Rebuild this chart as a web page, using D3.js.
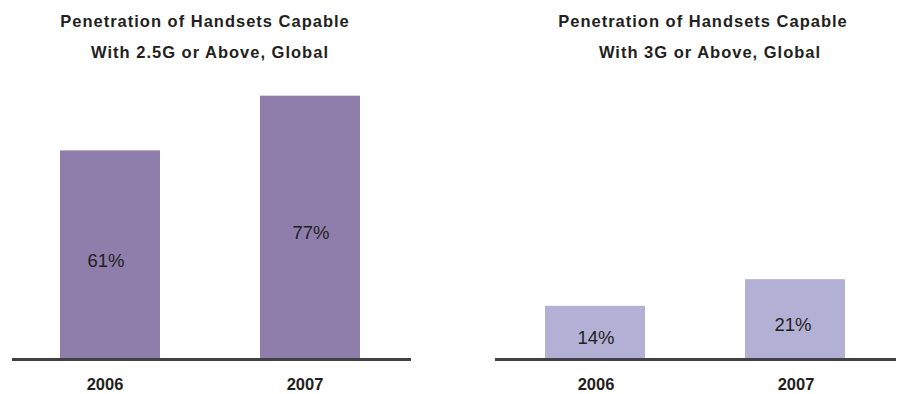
<!DOCTYPE html>
<html><head><meta charset="utf-8">
<script src="https://cdn.jsdelivr.net/npm/d3@7"></script>
<style>
html,body{margin:0;padding:0;background:#fff;}
svg text{font-family:"Liberation Sans",Arial,Helvetica,sans-serif;fill:#231f20;}
</style></head>
<body><svg id="c" width="898" height="394"></svg>
<script>
const years = ["2006", "2007"];
const values25G = [61, 77];
const values3G = [14, 21];
const titles25G = ["Penetration of Handsets Capable", "With 2.5G or Above, Global"];
const titles3G = ["Penetration of Handsets Capable", "With 3G or Above, Global"];

const svg = d3.select("#c");

function panel(opts) {
  const g = svg.append("g");
  const x = d3.scaleBand().domain(years).range([opts.x0, opts.x0 + 400]).paddingInner(0.5).paddingOuter(0.25);
  const y = d3.scaleLinear().domain([0, opts.max]).range([359, 17]);

  g.selectAll("rect").data(opts.values).join("rect")
    .attr("x", (d, i) => x(years[i]))
    .attr("width", x.bandwidth())
    .attr("y", d => y(d))
    .attr("height", d => y(0) - y(d))
    .attr("fill", opts.color);

  g.selectAll("text.val").data(opts.values).join("text")
    .attr("class", "val")
    .attr("x", (d, i) => x(years[i]) + x.bandwidth() / 2 + opts.valDx[i])
    .attr("y", d => (y(d) + y(0)) / 2 + 12)
    .attr("text-anchor", "middle")
    .style("font-size", "18.5px")
    .text(d => d + "%");

  g.append("line")
    .attr("x1", opts.axisX[0]).attr("x2", opts.axisX[1])
    .attr("y1", 359.5).attr("y2", 359.5)
    .attr("stroke", "#414042").attr("stroke-width", 3);

  g.selectAll("text.yr").data(years).join("text")
    .attr("class", "yr")
    .attr("x", d => x(d) + x.bandwidth() / 2 + opts.yrDx)
    .attr("y", 390)
    .attr("text-anchor", "middle")
    .style("font-size", "16.5px").style("font-weight", "bold")
    .text(d => d);

  g.selectAll("text.title").data(opts.titles).join("text")
    .attr("class", "title")
    .attr("x", (d, i) => opts.titleX[i])
    .attr("y", (d, i) => 27 + i * 31)
    .attr("text-anchor", "middle")
    .style("font-size", "16.5px").style("font-weight", "bold")
    .style("letter-spacing", "1px")
    .text(d => d);
}

panel({x0: 10, max: 100, values: values25G, color: "#8f7eab", titles: titles25G,
  titleX: [205, 210], axisX: [12, 411], valDx: [-4, 1], yrDx: -5});
panel({x0: 495, max: 90, values: values3G, color: "#b3b0d6", titles: titles3G,
  titleX: [703, 710], axisX: [495, 896], valDx: [1, -2], yrDx: 1});
</script></body></html>
